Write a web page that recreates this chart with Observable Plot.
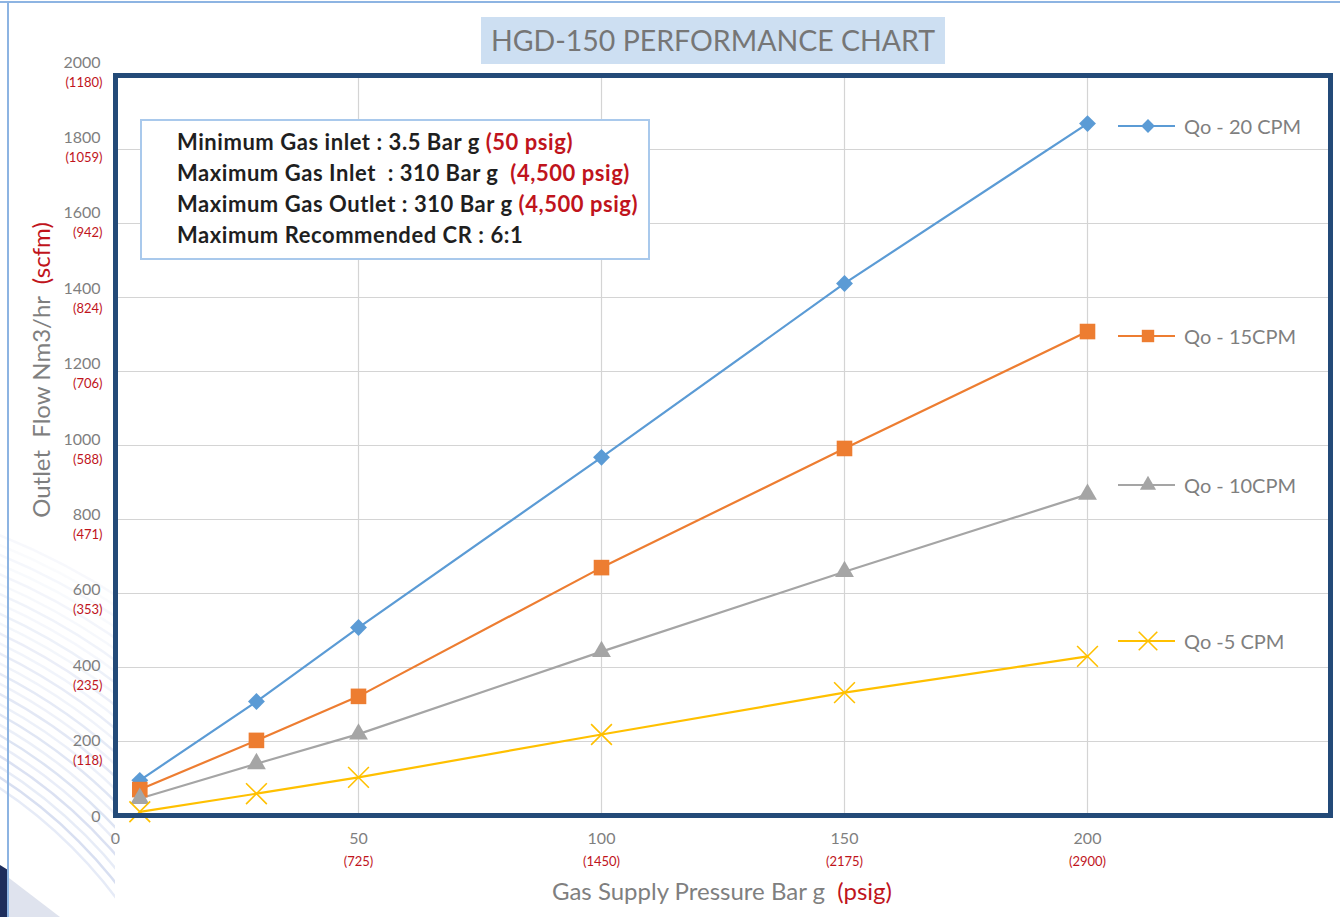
<!DOCTYPE html>
<html><head><meta charset="utf-8">
<script src="https://cdn.jsdelivr.net/npm/d3@7"></script>
<script src="https://cdn.jsdelivr.net/npm/@observablehq/plot@0.6"></script>
<style>
body{margin:0;background:#fff;font-family:Lato,"Open Sans",sans-serif;}
#wrap{position:relative;width:1340px;height:917px;overflow:hidden;background:#fff;}
#deco{position:absolute;left:0;top:0;width:1340px;height:917px;}
.layer{position:absolute;left:0;top:0;}
#frameTop{position:absolute;left:0;top:1px;width:1340px;height:2px;background:#8db4e2;}
#frameLeft{position:absolute;left:7px;top:1px;width:2px;height:916px;background:#8db4e2;}
#title{position:absolute;left:481px;top:17px;width:464px;height:47px;background:#cddff2;color:#767676;font-size:28.5px;line-height:47px;text-align:center;}
#info{position:absolute;left:140px;top:119px;width:506px;height:137px;border:2px solid #a9c9ec;background:#fff;box-sizing:content-box;}
#info div{position:absolute;left:35px;font-weight:bold;font-size:22px;letter-spacing:0.55px;color:#1f1f1f;white-space:pre;line-height:26px;}
.red{color:#c0141c;}
#ytitle{position:absolute;left:40px;top:370px;transform:translate(-50%,-50%) rotate(-90deg);font-size:24px;color:#7f7f7f;white-space:pre;}
#xtitle{position:absolute;left:722px;top:890px;transform:translate(-50%,-50%);font-size:24px;color:#7f7f7f;white-space:pre;}
.leg{position:absolute;left:1116px;height:30px;}
.leg span{position:absolute;left:68px;top:0;line-height:30px;font-size:20px;color:#7f7f7f;white-space:pre;}
</style></head><body>
<div id="wrap">
  <svg id="deco" width="1340" height="917"></svg>
  <div id="frameTop"></div><div id="frameLeft"></div>
  <div id="chart" class="layer"></div>
  <div id="labels" class="layer"></div>
  <div id="title">HGD-150 PERFORMANCE CHART</div>
  <div id="info"></div>
  <div id="ytitle">Outlet&#160; Flow Nm3/hr&#160; <span class="red">(scfm)</span></div>
  <div id="xtitle">Gas Supply Pressure Bar g&#160; <span class="red">(psig)</span></div>
  <div id="legend"></div>
</div>
<script>
// ---- data ----
const pressureBar = [5, 29, 50, 100, 150, 200];
const seriesNames = ["Qo - 20 CPM", "Qo - 15CPM", "Qo - 10CPM", "Qo -5 CPM"];
const flow20 = [95, 308, 508, 968, 1438, 1870];
const flow15 = [70, 203, 322, 670, 992, 1308];
const flow10 = [46, 140, 220, 443, 659, 868];
const flow5  = [10, 59, 103, 219, 332, 430];
const seriesColors = ["#5b9bd5", "#ed7d31", "#a5a5a5", "#ffc000"];
const seriesSymbols = ["diamond2", "square", "triangle", "times"];
const xTicks = [0, 50, 100, 150, 200];
const xTickPsig = ["", "(725)", "(1450)", "(2175)", "(2900)"];
const yTicks = [0, 200, 400, 600, 800, 1000, 1200, 1400, 1600, 1800, 2000];
const yTickScfm = ["", "(118)", "(235)", "(353)", "(471)", "(588)", "(706)", "(824)", "(942)", "(1059)", "(1180)"];
const infoLines = [
  ["Minimum Gas inlet : 3.5 Bar g ", "(50 psig)"],
  ["Maximum Gas Inlet  : 310 Bar g  ", "(4,500 psig)"],
  ["Maximum Gas Outlet : 310 Bar g ", "(4,500 psig)"],
  ["Maximum Recommended CR : 6:1", ""]
];

const flows = [flow20, flow15, flow10, flow5];
const rows = [];
seriesNames.forEach((s, i) => pressureBar.forEach((p, j) => rows.push({series: s, x: p, y: flows[i][j]})));
const colorOf = Object.fromEntries(seriesNames.map((s, i) => [s, seriesColors[i]]));
const font = "Lato, 'Open Sans', sans-serif";

const dotOpts = [
  {r: 7.6, fill: seriesColors[0], stroke: "none"},
  {r: 8.8, fill: seriesColors[1], stroke: "none"},
  {r: 7, fill: seriesColors[2], stroke: "none"},
  {r: 9.5, fill: "none", stroke: seriesColors[3], strokeWidth: 1.6}
];

const chart = Plot.plot({
  width: 1340, height: 917,
  marginLeft: 115, marginRight: 10, marginTop: 75, marginBottom: 102,
  x: {domain: [0, 250]},
  y: {domain: [0, 2000], axis: null},
  style: {fontFamily: font, background: "transparent", overflow: "visible"},
  marks: [
    Plot.gridY(yTicks.slice(1), {stroke: "#d4d4d4", strokeOpacity: 1, strokeWidth: 1.2}),
    Plot.gridX(xTicks.slice(1), {stroke: "#d4d4d4", strokeOpacity: 1, strokeWidth: 1.2}),
    Plot.axisX(xTicks, {tickSize: 0, tickPadding: 17, fontSize: 16, fill: "#7f7f7f", label: null,
      tickFormat: d => String(d)}),
    Plot.axisX(xTicks, {tickSize: 0, tickPadding: 41, fontSize: 13, fill: "#c0141c", label: null,
      tickFormat: d => xTickPsig[xTicks.indexOf(d)]}),
    Plot.line(rows, {x: "x", y: "y", z: "series", stroke: d => colorOf[d.series], strokeWidth: 2.2}),
    ...seriesNames.map((s, i) => Plot.dot(rows.filter(d => d.series === s), {
      x: "x", y: "y", symbol: () => seriesSymbols[i], ...dotOpts[i]
    })),
    Plot.frame({stroke: "#234a78", strokeWidth: 5})
  ]
});
document.getElementById("chart").append(chart);

// tick label layer: the original's labels are spaced slightly wider than the grid
const labels = Plot.plot({
  width: 1340, height: 917,
  marginLeft: 115, marginRight: 10, marginTop: 62, marginBottom: 101,
  x: {domain: [0, 250], axis: null},
  y: {domain: [0, 2000]},
  style: {fontFamily: font, background: "transparent", overflow: "visible"},
  marks: [
    Plot.axisY(yTicks, {tickSize: 0, tickPadding: 15, fontSize: 16, fill: "#7f7f7f", label: null,
      tickFormat: d => String(d)}),
    Plot.axisY(yTicks, {tickSize: 0, tickPadding: 13, dy: 20, fontSize: 13, fill: "#c0141c", label: null,
      tickFormat: d => yTickScfm[yTicks.indexOf(d)]})
  ]
});
document.getElementById("labels").append(labels);

// info box
const info = document.getElementById("info");
infoLines.forEach((l, i) => {
  const d = document.createElement("div");
  d.style.top = (8 + i * 31) + "px";
  d.textContent = l[0];
  if (l[1]) { const s = document.createElement("span"); s.className = "red"; s.textContent = l[1]; d.append(s); }
  info.append(d);
});

// legend
const legendY = [111, 321, 470, 626];
const legend = document.getElementById("legend");
seriesNames.forEach((s, i) => {
  const g = document.createElement("div");
  g.className = "leg";
  g.style.top = legendY[i] + "px";
  const svg = d3.create("svg").attr("width", 60).attr("height", 30).style("position", "absolute").style("left", 0).style("top", 0);
  svg.append("line").attr("x1", 2).attr("x2", 59).attr("y1", 15).attr("y2", 15).attr("stroke", seriesColors[i]).attr("stroke-width", 2.2);
  const sym = {diamond2: d3.symbolDiamond2, square: d3.symbolSquare, triangle: d3.symbolTriangle, times: d3.symbolTimes}[seriesSymbols[i]];
  const r = [6.2, 7, 6, 8.5][i];
  const p = svg.append("path").attr("transform", "translate(32,15)").attr("d", d3.symbol(sym, Math.PI * r * r)());
  if (i === 3) p.attr("fill", "none").attr("stroke", seriesColors[i]).attr("stroke-width", 1.6);
  else p.attr("fill", seriesColors[i]);
  g.append(svg.node());
  const t = document.createElement("span"); t.textContent = s; g.append(t);
  legend.append(g);
});

// faint background decoration at the lower-left
const deco = d3.select("#deco");
for (let k = 0; k < 26; k++) {
  deco.append("circle").attr("cx", -260).attr("cy", 1180).attr("r", 470 + k * 9)
    .attr("fill", "none").attr("stroke", k % 2 ? "#c9d3ec" : "#dde4f4").attr("stroke-width", 2.5)
    .attr("opacity", Math.max(0.15, 0.75 - k * 0.025));
}
deco.append("rect").attr("x", 115).attr("y", 0).attr("width", 1225).attr("height", 917).attr("fill", "#fff");
deco.append("path").attr("d", "M0,865 L8,870 L8,917 L0,917 Z").attr("fill", "#1d2d5c");
deco.append("path").attr("d", "M9,878 L60,917 L9,917 Z").attr("fill", "#dfe3ee");
</script>
</body></html>
